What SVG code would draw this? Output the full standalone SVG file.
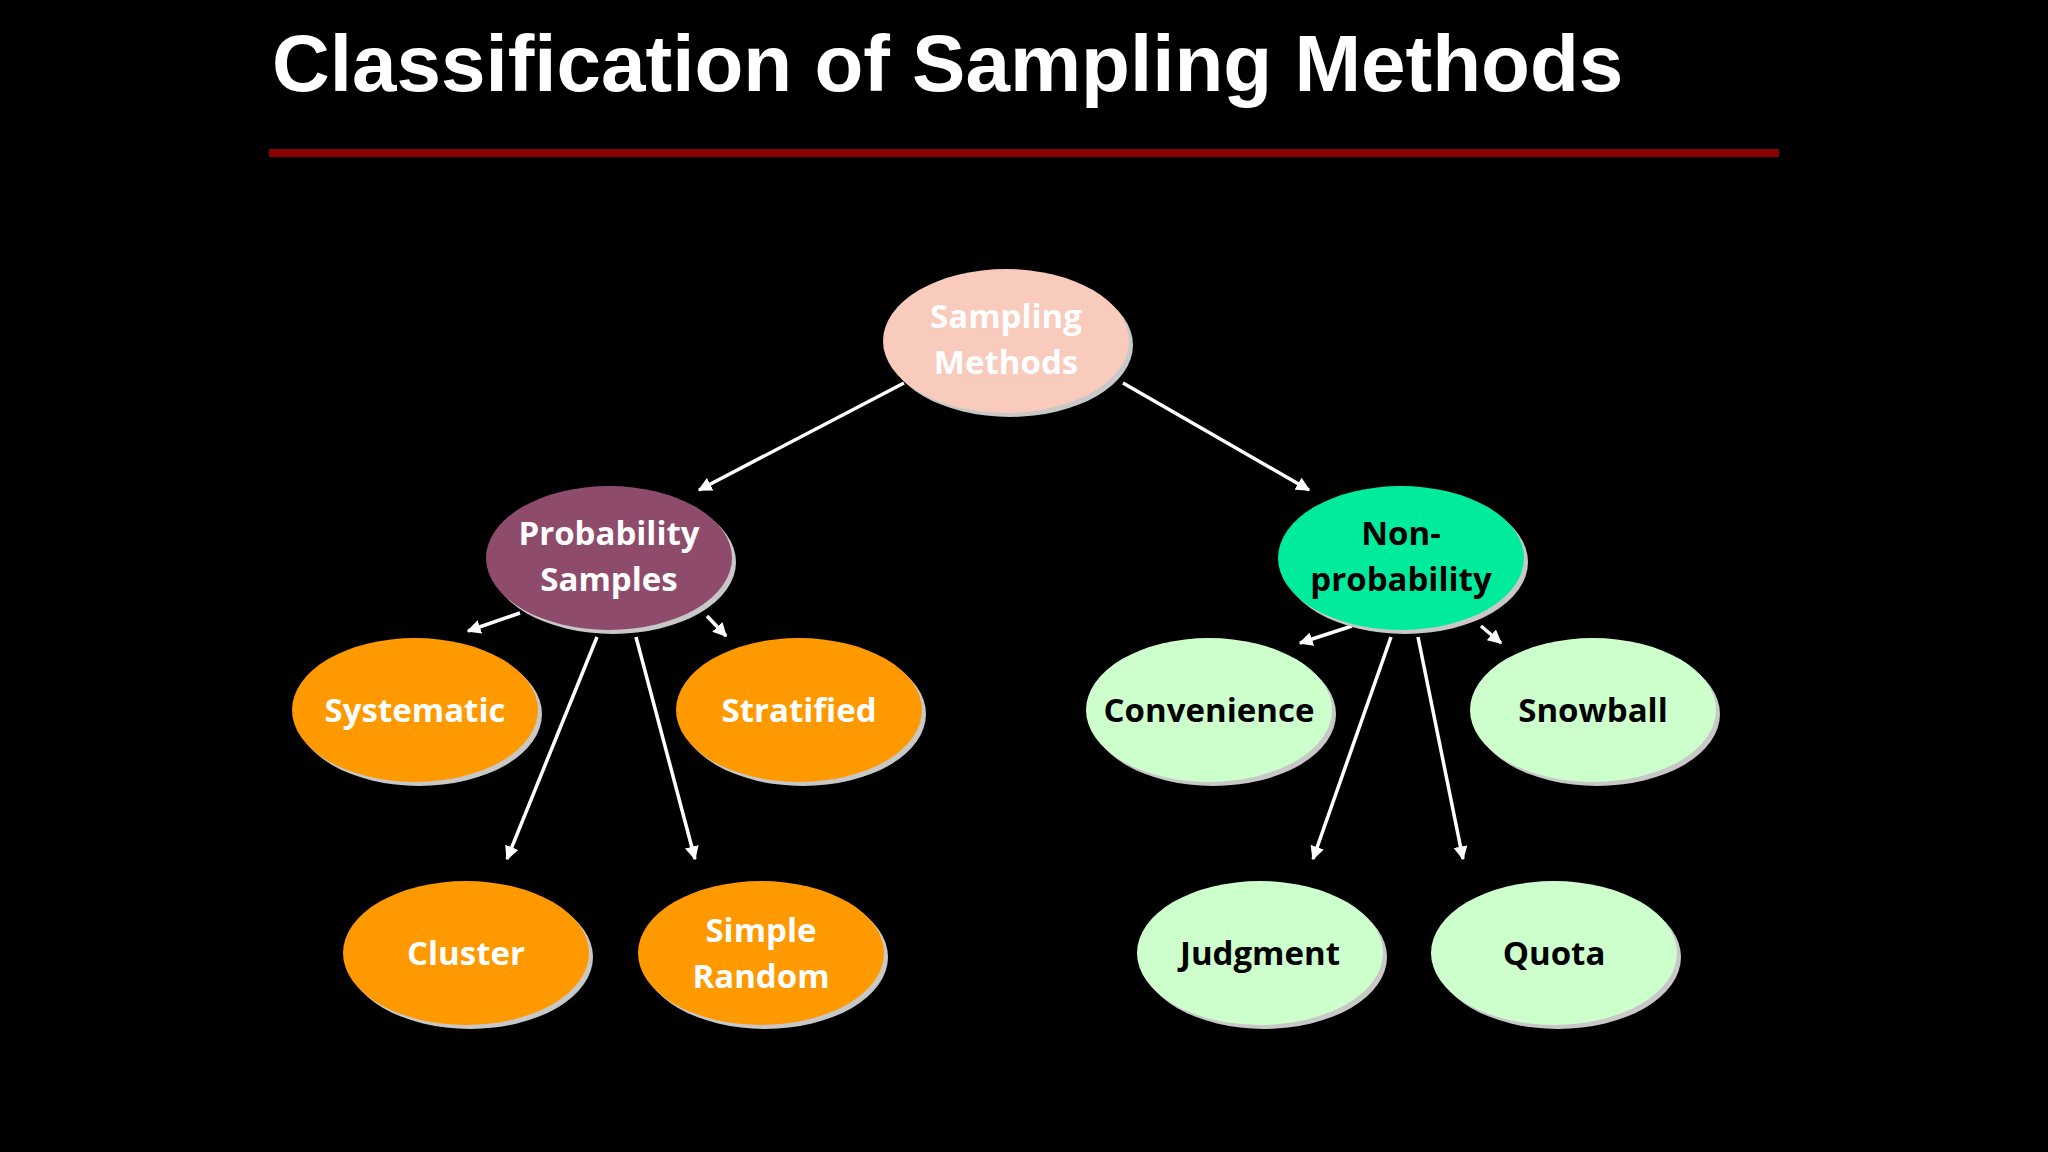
<svg xmlns="http://www.w3.org/2000/svg" width="2048" height="1152" viewBox="0 0 2048 1152">
<defs>
<style>
.t{font-family:"Open Sans","Liberation Sans",sans-serif;font-weight:bold;font-size:33px;text-anchor:middle}
.sh{fill:#c8c8c8}
.ln{stroke:#fff;stroke-width:3.5;fill:none;marker-end:url(#a)}
</style>
<marker id="a" viewBox="0 0 10 10" refX="9" refY="5" markerWidth="4" markerHeight="4" orient="auto"><path d="M0,0L10,5L0,10z" fill="#fff"/></marker>
</defs>
<rect width="2048" height="1152" fill="#000"/>
<text x="272" y="91" font-family="Liberation Sans,Arial,sans-serif" font-weight="bold" font-size="80" fill="#fff">Classification of Sampling Methods</text>
<rect x="269" y="149" width="1510" height="8" fill="#8b0000"/>
<g id="edges">
<line class="ln" x1="904" y1="383" x2="699" y2="490"/>
<line class="ln" x1="1123" y1="383" x2="1309" y2="490"/>
<line class="ln" x1="520" y1="613" x2="468" y2="631"/>
<line class="ln" x1="707" y1="616" x2="726" y2="636"/>
<line class="ln" x1="597" y1="637" x2="507" y2="859"/>
<line class="ln" x1="636" y1="637" x2="695" y2="859"/>
<line class="ln" x1="1352" y1="626" x2="1300" y2="643"/>
<line class="ln" x1="1481" y1="626" x2="1501" y2="643"/>
<line class="ln" x1="1391" y1="637" x2="1313" y2="859"/>
<line class="ln" x1="1418" y1="637" x2="1463" y2="859"/>
</g>
<g id="sampling"><ellipse class="sh" cx="1010" cy="345" rx="123" ry="72"/><ellipse cx="1006" cy="341" rx="123" ry="72" fill="#f8cbbd"/><text class="t" fill="#fff"><tspan x="1006" y="328">Sampling</tspan><tspan x="1006" y="374">Methods</tspan></text></g>
<g id="prob"><ellipse class="sh" cx="613" cy="562" rx="123" ry="72"/><ellipse cx="609" cy="558" rx="123" ry="72" fill="#8f4b6b"/><text class="t" fill="#fff"><tspan x="609" y="545">Probability</tspan><tspan x="609" y="591">Samples</tspan></text></g>
<g id="nonprob"><ellipse class="sh" cx="1405" cy="562" rx="123" ry="72"/><ellipse cx="1401" cy="558" rx="123" ry="72" fill="#00ec9c"/><text class="t" fill="#000"><tspan x="1401" y="545">Non-</tspan><tspan x="1401" y="591">probability</tspan></text></g>
<g id="systematic"><ellipse class="sh" cx="419" cy="714" rx="123" ry="72"/><ellipse cx="415" cy="710" rx="123" ry="72" fill="#ff9900"/><text class="t" fill="#fff" x="415" y="722">Systematic</text></g>
<g id="stratified"><ellipse class="sh" cx="803" cy="714" rx="123" ry="72"/><ellipse cx="799" cy="710" rx="123" ry="72" fill="#ff9900"/><text class="t" fill="#fff" x="799" y="722">Stratified</text></g>
<g id="cluster"><ellipse class="sh" cx="470" cy="957" rx="123" ry="72"/><ellipse cx="466" cy="953" rx="123" ry="72" fill="#ff9900"/><text class="t" fill="#fff" x="466" y="965">Cluster</text></g>
<g id="simple"><ellipse class="sh" cx="765" cy="957" rx="123" ry="72"/><ellipse cx="761" cy="953" rx="123" ry="72" fill="#ff9900"/><text class="t" fill="#fff"><tspan x="761" y="942">Simple</tspan><tspan x="761" y="988">Random</tspan></text></g>
<g id="convenience"><ellipse class="sh" cx="1213" cy="714" rx="123" ry="72"/><ellipse cx="1209" cy="710" rx="123" ry="72" fill="#ccffcc"/><text class="t" fill="#000" x="1209" y="722">Convenience</text></g>
<g id="snowball"><ellipse class="sh" cx="1597" cy="714" rx="123" ry="72"/><ellipse cx="1593" cy="710" rx="123" ry="72" fill="#ccffcc"/><text class="t" fill="#000" x="1593" y="722">Snowball</text></g>
<g id="judgment"><ellipse class="sh" cx="1264" cy="957" rx="123" ry="72"/><ellipse cx="1260" cy="953" rx="123" ry="72" fill="#ccffcc"/><text class="t" fill="#000" x="1260" y="965">Judgment</text></g>
<g id="quota"><ellipse class="sh" cx="1558" cy="957" rx="123" ry="72"/><ellipse cx="1554" cy="953" rx="123" ry="72" fill="#ccffcc"/><text class="t" fill="#000" x="1554" y="965">Quota</text></g>
</svg>
